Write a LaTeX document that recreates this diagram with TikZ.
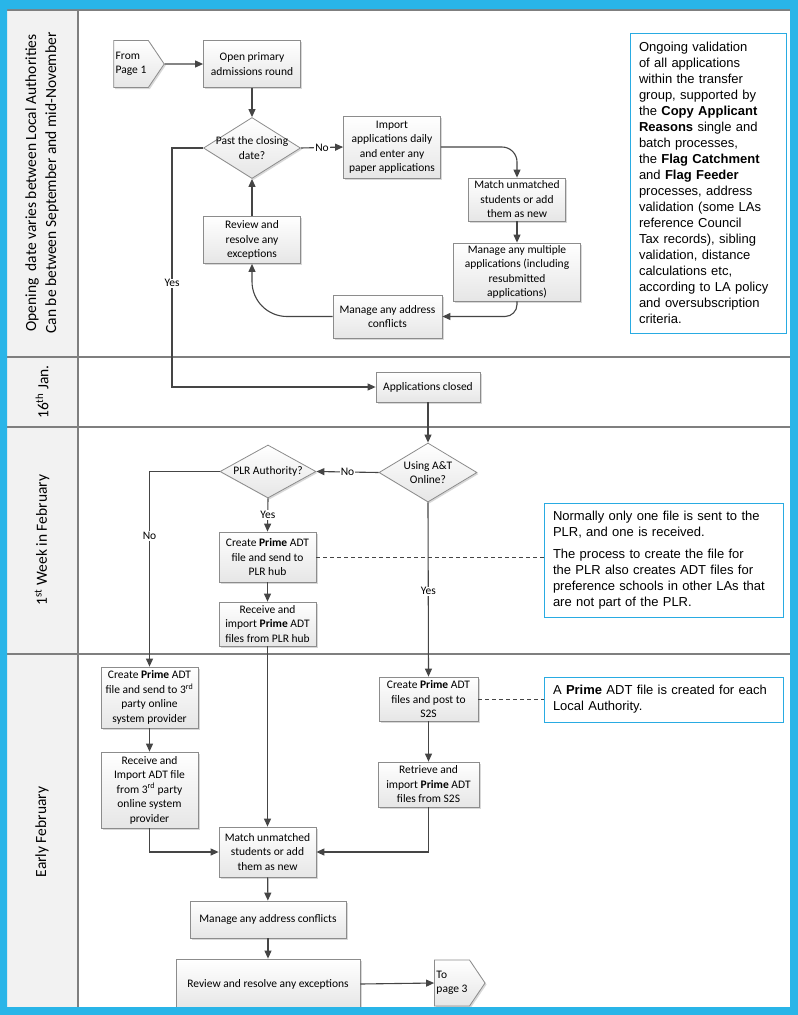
\documentclass[tikz,border=0pt]{standalone}
\usepackage{fontspec}
\setmainfont{Carlito}
\newfontfamily\notefont{Liberation Sans}
\usetikzlibrary{arrows.meta,positioning,shapes.geometric,shapes.symbols,shadows}
\definecolor{frm}{HTML}{29B5E8}
\definecolor{lanebg}{HTML}{F2F2F2}
\definecolor{sepc}{HTML}{7F7F7F}
\definecolor{bx}{HTML}{8C8C8C}
\definecolor{bxf}{HTML}{E6E6E6}
\definecolor{ln}{HTML}{454545}
\definecolor{nb}{HTML}{29ABE2}
\tikzset{
  box/.style={draw=bx,line width=0.8pt,top color=white,bottom color=bxf,align=center,inner sep=2pt,
    font=\fontsize{11.5}{14.5}\selectfont,
    drop shadow={shadow xshift=1.5pt,shadow yshift=-1.5pt,fill=black!30,opacity=.5}},
  dec/.style={box,diamond,inner sep=0pt},
  dtxt/.style={align=center,inner sep=0pt,font=\fontsize{11.5}{14.5}\selectfont},
  pg/.style={box,signal,signal to=east,signal pointer angle=112,align=left},
  note/.style={draw=nb,line width=0.8pt,fill=white,align=left,inner xsep=9pt,inner ysep=0pt,
    font=\notefont\fontsize{13}{16}\selectfont},
  ar/.style={-{Triangle[length=8pt,width=7pt]},line width=1.1pt,draw=ln},
  dsh/.style={draw=ln,line width=0.7pt,dash pattern=on 4pt off 3pt},
  lbl/.style={fill=white,inner sep=1pt,font=\fontsize{11.5}{13}\selectfont},
  sep/.style={draw=sepc,line width=1.2pt},
  lane/.style={rotate=90,align=center,font=\fontsize{15.5}{20}\selectfont},
}
\begin{document}
\begin{tikzpicture}[x=1pt,y=-1pt]
  \useasboundingbox (0,0) rectangle (798,1015);
  \fill[white] (0,0) rectangle (798,1015);
  \fill[lanebg] (7,10) rectangle (78,1007);
  \draw[sep] (7,10) -- (790,10);
  \foreach \yy in {357,427,654} \draw[sep] (7,\yy) -- (790,\yy);
  \draw[sep] (78,10) -- (78,1007);

  \node[lane] (lsep) at (42,183) {Opening\ \ date varies between Local Authorities\\Can be between September and mid-November};
  \node[lane] (ljan) at (42,392) {16\textsuperscript{th} Jan.};
  \node[lane] (lfeb) at (42,540) {1\textsuperscript{st} Week in February};
  \node[lane] (learly) at (42,832) {Early February};

  \node[pg,minimum width=47,minimum height=47] (from1) at (131,64) {From\\Page 1};
  \node[box,minimum width=97,minimum height=47] (open) at (252,64) {Open primary\\admissions round};
  \node[dec,minimum width=97,minimum height=61,label={[dtxt]center:Past the closing\\date?}] (past) at (252,148) {};
  \node[box,minimum width=97,minimum height=62] (imp) at (392,147) {Import\\applications daily\\and enter any\\paper applications};
  \node[box,minimum width=97,minimum height=43] (mat1) at (517,199.5) {Match unmatched\\students or add\\them as new};
  \node[box,minimum width=127,minimum height=58] (mul) at (517,272) {Manage any multiple\\applications (including\\resubmitted\\applications)};
  \node[box,minimum width=109,minimum height=43] (adr1) at (387.5,316.5) {Manage any address\\conflicts};
  \node[box,minimum width=97,minimum height=47] (rev1) at (252,240) {Review and\\resolve any\\exceptions};
  \node[note,minimum width=156,minimum height=300,text width=138] (note1) at (708,183) {Ongoing validation\\of all applications\\within the transfer\\group, supported by\\the \textbf{Copy Applicant}\\\textbf{Reasons} single and\\batch processes,\\the \textbf{Flag Catchment}\\and \textbf{Flag Feeder}\\processes, address\\validation (some LAs\\reference Council\\Tax records), sibling\\validation, distance\\calculations etc,\\according to LA policy\\and oversubscription\\criteria.};

  \node[box,minimum width=104,minimum height=30] (closed) at (428,387) {Applications closed};
  \node[dec,minimum width=98,minimum height=59,label={[dtxt]center:Using A\&T\\Online?}] (using) at (428,472.5) {};
  \node[dec,minimum width=96,minimum height=53,label={[dtxt]center:PLR Authority?}] (plr) at (268,471.5) {};
  \node[box,minimum width=97,minimum height=50] (crp) at (267.5,557) {Create \textbf{Prime} ADT\\file and send to\\PLR hub};
  \node[box,minimum width=97,minimum height=44] (rcp) at (267.5,624) {Receive and\\import \textbf{Prime} ADT\\files from PLR hub};
  \node[note,minimum width=239,minimum height=114,text width=221] (note2) at (663.5,560) {Normally only one file is sent to the\\PLR, and one is received.\\[6pt]The process to create the file for\\the PLR also creates ADT files for\\preference schools in other LAs that\\are not part of the PLR.};

  \node[box,minimum width=97,minimum height=61] (cr3) at (149.5,697.5) {Create \textbf{Prime} ADT\\file and send to 3\textsuperscript{rd}\\party online\\system provider};
  \node[box,minimum width=97,minimum height=76] (rc3) at (149.5,790) {Receive and\\Import ADT file\\from 3\textsuperscript{rd} party\\online system\\provider};
  \node[box,minimum width=99,minimum height=44] (crs) at (428.5,699) {Create \textbf{Prime} ADT\\files and post to\\S2S};
  \node[note,minimum width=239,minimum height=45,text width=221] (note3) at (663.5,699.5) {A \textbf{Prime} ADT file is created for each\\Local Authority.};
  \node[box,minimum width=101,minimum height=45] (rts) at (428.5,784.5) {Retrieve and\\import \textbf{Prime} ADT\\files from S2S};
  \node[box,minimum width=97,minimum height=50] (mat2) at (267.5,852) {Match unmatched\\students or add\\them as new};
  \node[box,minimum width=156,minimum height=37] (adr2) at (268,919.5) {Manage any address conflicts};
  \node[box,minimum width=184,minimum height=50] (rev2) at (268,984) {Review and resolve any exceptions};
  \node[pg,minimum width=48,minimum height=46] (top3) at (452,983) {To\\page 3};

  \coordinate (ybend) at (172,148);
  \draw[ar] (from1) -- (open);
  \draw[ar] (open) -- (past);
  \draw[ar] (past.east) -- node[lbl]{No} (imp.west);
  \draw[ar,rounded corners=15pt] (imp.east) -| (mat1.north);
  \draw[ar] (mat1) -- (mul);
  \draw[ar,rounded corners=12pt] (mul.south) |- (adr1.east);
  \draw[ar,rounded corners=35pt] (adr1.west) -| (rev1.south);
  \draw[ar] (rev1) -- (past);
  \draw[ar] (past.west) -- (ybend) |- node[lbl,pos=0.283]{Yes} (closed.west);
  \draw[ar] (closed) -- (using);
  \draw[ar] (using.west) -- node[lbl]{No} (plr.east);
  \draw[ar] (plr.west) -| node[lbl,pos=0.665]{No} (cr3.north);
  \draw[ar] (plr.south) -- node[lbl]{Yes} (crp.north);
  \draw[ar] (crp) -- (rcp);
  \draw[ar] (rcp) -- (mat2);
  \draw[ar] (using.south) -- node[lbl,pos=0.51]{Yes} (crs.north);
  \draw[ar] (crs) -- (rts);
  \draw[ar] (cr3) -- (rc3);
  \draw[ar] (rc3.south) |- (mat2.west);
  \draw[ar] (rts.south) |- (mat2.east);
  \draw[ar] (mat2) -- (adr2);
  \draw[ar] (adr2) -- (rev2);
  \draw[ar] (rev2.east) -- (top3.west);
  \draw[dsh] (crp.east) -- (crp.east -| note2.west);
  \draw[dsh] (crs.east) -- (crs.east -| note3.west);

  \fill[frm,even odd rule] (0,0) rectangle (798,1015) (7,9) rectangle (790,1007);
\end{tikzpicture}
\end{document}
